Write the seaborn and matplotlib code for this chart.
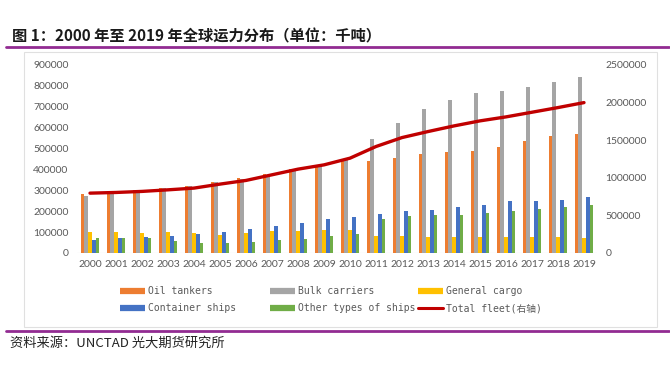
import numpy as np
import pandas as pd
import matplotlib
matplotlib.use("Agg")
import matplotlib.pyplot as plt
from matplotlib.lines import Line2D
from matplotlib.patches import Rectangle
import seaborn as sns

years = [str(y) for y in range(2000, 2020)]
oil_tankers = [282000, 295000, 302000, 310000, 320000, 340000, 358000, 380000, 403000, 422000,
               446000, 441000, 454000, 473000, 484000, 490000, 506000, 538000, 562000, 572000]
bulk_carriers = [272000, 295000, 302000, 310000, 320000, 338000, 354000, 374000, 398000, 422000,
                 443000, 546000, 621000, 688000, 731000, 764000, 777000, 796000, 817000, 841000]
general_cargo = [100000, 100000, 94000, 100000, 94000, 88000, 95000, 103000, 103000, 108000,
                 108000, 80000, 80000, 75000, 75000, 75000, 75000, 75000, 75000, 72000]
container_ships = [60000, 70000, 76000, 83000, 90000, 100000, 115000, 127000, 146000, 164000,
                   172000, 186000, 199000, 207000, 218000, 228000, 247000, 247000, 255000, 268000]
other_ships = [72000, 70000, 70000, 57000, 48000, 48000, 52000, 60000, 68000, 83000,
               91000, 164000, 175000, 180000, 183000, 193000, 199000, 212000, 218000, 229000]
total_fleet = [796000, 805000, 819000, 840000, 863000, 916000, 965000, 1040000, 1115000, 1172000,
               1261000, 1416000, 1535000, 1615000, 1690000, 1757000, 1810000, 1872000, 1934000, 2000000]

series_names = ["Oil tankers", "Bulk carriers", "General cargo", "Container ships", "Other types of ships"]
line_name = "Total fleet(右轴)"
colors = ["#ED7D31", "#A5A5A5", "#FFC000", "#4472C4", "#70AD47"]
line_color = "#C00000"

df = pd.DataFrame({
    "year": years * 5,
    "type": sum([[n] * len(years) for n in series_names], []),
    "value": oil_tankers + bulk_carriers + general_cargo + container_ships + other_ships,
})

sns.set_theme(style="white")
plt.rcParams["font.family"] = ["Lato", "Noto Sans CJK SC", "DejaVu Sans"]

W, H = 670, 380
fig = plt.figure(figsize=(W / 100, H / 100), dpi=100)
fig.patch.set_facecolor("white")

def fx(px):
    return px / W

def fy(py):
    return 1 - py / H

ax = fig.add_axes([fx(77), fy(253), fx(597) - fx(77), fy(65) - fy(253)])
sns.barplot(data=df, x="year", y="value", hue="type", hue_order=series_names,
            palette=colors, order=years, width=0.72, gap=0, ax=ax,
            saturation=1, legend=False, errorbar=None, linewidth=0)
ax.set_xlim(-0.5, len(years) - 0.5)
ax.set_ylim(0, 900000)
ax.set_yticks(np.arange(0, 900001, 100000))
ax.set_yticklabels([str(v) for v in range(0, 900001, 100000)])
ax.set_xlabel("")
ax.set_ylabel("")
for s in ax.spines.values():
    s.set_visible(False)
ax.axhline(0, color="#D9D9D9", lw=0.8, zorder=0)
ax.tick_params(axis="both", length=0, labelsize=7.5, labelcolor="#595959")
ax.tick_params(axis="y", pad=6)
ax.tick_params(axis="x", pad=5)
ax.set_facecolor("none")

ax2 = ax.twinx()
sns.lineplot(x=np.arange(len(years)), y=total_fleet, ax=ax2, color=line_color, lw=2.4)
ax2.set_xlim(-0.5, len(years) - 0.5)
ax2.set_ylim(0, 2500000)
ax2.set_yticks(np.arange(0, 2500001, 500000))
ax2.set_yticklabels([str(v) for v in range(0, 2500001, 500000)])
ax2.set_ylabel("")
for s in ax2.spines.values():
    s.set_visible(False)
ax2.tick_params(axis="y", length=0, labelsize=7.5, labelcolor="#595959", pad=6)
ax2.grid(False)
ax.grid(False)

# chart frame
fig.add_artist(Rectangle((fx(24), fy(327)), fx(657) - fx(24), fy(52) - fy(327),
                         transform=fig.transFigure, fill=False, edgecolor="#E0E0E0", lw=0.8))

# title and purple rules
fig.text(fx(12), fy(36), "图 1：2000 年至 2019 年全球运力分布（单位：千吨）",
         family=["Noto Sans CJK SC", "DejaVu Sans"], fontsize=11, fontweight="bold",
         color="#1a1a1a", va="center", ha="left")
fig.add_artist(Line2D([fx(6), fx(669)], [fy(47), fy(47)], transform=fig.transFigure,
                      color="#922B92", lw=2))
fig.add_artist(Line2D([fx(6), fx(669)], [fy(331), fy(331)], transform=fig.transFigure,
                      color="#922B92", lw=2))
fig.text(fx(10), fy(343), "资料来源：UNCTAD 光大期货研究所",
         family=["Noto Sans CJK SC", "DejaVu Sans"], fontsize=9.5, fontweight="medium",
         color="#222222", va="center", ha="left")

# legend: three columns, row-wise order as in reference
handles = [Line2D([], [], color=c, lw=4.5, solid_capstyle="butt") for c in colors]
handles.append(Line2D([], [], color=line_color, lw=2.2))
labels = series_names + [line_name]
col_x = [120, 270, 418]
cols = [[0, 3], [1, 4], [2, 5]]
for x0, idx in zip(col_x, cols):
    leg = fig.legend([handles[i] for i in idx], [labels[i] for i in idx],
                     loc="upper left", bbox_to_anchor=(fx(x0), fy(286)),
                     frameon=False, borderpad=0, borderaxespad=0,
                     handlelength=2.6, handletextpad=0.3, labelspacing=0.75,
                     prop={"family": ["DejaVu Sans Mono", "Noto Sans CJK SC"], "size": 7})
    for t in leg.get_texts():
        t.set_color("#595959")

fig.savefig("out.png", dpi=100, facecolor="white")
